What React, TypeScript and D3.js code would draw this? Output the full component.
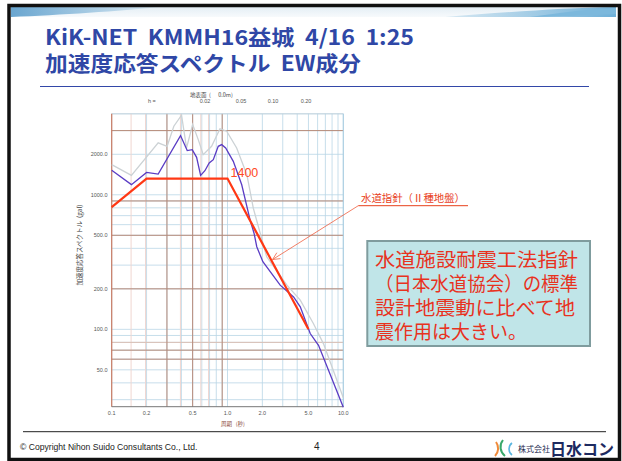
import React from 'react';
import * as d3 from 'd3';

// observed EW spectrum (KMMH16, h=0.05)
const ewPeriods = [0.1, 0.148, 0.2, 0.252, 0.393, 0.449, 0.496, 0.541, 0.586, 0.638, 0.695, 0.754, 0.832, 0.891, 0.964, 1.122, 1.327, 1.566, 1.695, 1.79, 2.02, 2.85, 3.72, 4.25, 5.18, 6.11, 10];
const ewAccel = [1520, 1190, 1467, 1427, 2756, 2130, 2167, 1898, 1393, 1510, 1724, 1825, 2293, 2360, 2231, 1772, 1188, 651, 518, 411, 318, 213, 174, 147, 93, 76, 26.3];

// faint grey spectrum
const refPeriods = [0.1, 0.148, 0.252, 0.301, 0.344, 0.401, 0.443, 0.5, 0.559, 0.617, 0.729, 0.861, 0.984, 1.2, 1.47, 1.67, 2.18, 3.26, 4.25, 5.53, 6.75, 10];
const refAccel = [1675, 1393, 2431, 2293, 3234, 3906, 2231, 3331, 2572, 1989, 2293, 3092, 2968, 2231, 1410, 796, 346, 213, 165, 110, 78, 31];

// water supply guideline, type II ground
const guidePeriods = [0.1, 0.2, 1.0, 5.0];
const guideAccel = [810, 1320, 1320, 100];

const xTicks = [0.1, 0.2, 0.5, 1.0, 2.0, 5.0, 10.0];
const yTicks = [50, 100, 200, 500, 1000, 2000];
const dampingLabels = ['0.02', '0.05', '0.10', '0.20'];
const dampingX = [205, 241, 273, 306];

const noteLines = ['水道施設耐震工法指針', '（日本水道協会）の標準', '設計地震動に比べて地', '震作用は大きい。'];
const noteWidths = [203, 203, 200, 152];

const W = 622;
const H = 461;
const jp = '"Noto Sans CJK JP", "Noto Sans", sans-serif';
const sans = '"Liberation Sans", Arial, sans-serif';

const x = d3.scaleLog().domain([0.1, 10]).range([111.7, 343.3]);
const y = d3.scaleLog().domain([26.6, 4000]).range([406.7, 113.8]);

const decadeSteps = d3.range(1, 10);
const xGrid = [0.1, 1].flatMap(d => decadeSteps.map(k => k * d)).concat([10]);
const yGrid = [10, 100, 1000].flatMap(d => decadeSteps.map(k => k * d)).filter(v => v >= 30 && v <= 4000);
const xBrown = [0.3, 0.5, 0.9];
const xPink = [0.15, 0.2, 0.4, 0.6, 0.7];
const yBrown = [3000, 900, 500, 200, 70, 60];
const yLightBrown = [80];

const line = d3.line<[number, number]>()
  .x(d => x(d[0]))
  .y(d => y(d[1]));

const zip = (a: number[], b: number[]) => a.map((v, i) => [v, b[i]] as [number, number]);

export default function App() {
  const [x0, x1] = x.range();
  const [yb, yt] = y.range();

  // point on the falling branch of the guideline for the leader arrow
  const fall = d3.scaleLinear()
    .domain([Math.log10(guidePeriods[2]), Math.log10(guidePeriods[3])])
    .range([Math.log10(guideAccel[2]), Math.log10(guideAccel[3])]);
  const tipT = 2.45;
  const tip = [x(tipT), y(Math.pow(10, fall(Math.log10(tipT)))) - 3];
  const from = [358.3, 205.7];
  const ang = Math.atan2(from[1] - tip[1], from[0] - tip[0]);
  const head = [-0.45, 0.45].map(a => [tip[0] + 8 * Math.cos(ang + a), tip[1] + 8 * Math.sin(ang + a)]);

  return (
    <svg width={W} height={H} style={{ position: 'absolute', left: 0, top: 0, background: '#fff' }}>
      <defs>
        <linearGradient id="swL" x1="0" x2="1" y1="0" y2="0">
          <stop offset="0" stopColor="#6aa6d0" />
          <stop offset="1" stopColor="#dcebf4" />
        </linearGradient>
        <linearGradient id="swR" x1="0" x2="1" y1="0" y2="0">
          <stop offset="0" stopColor="#d8e9f3" />
          <stop offset="1" stopColor="#6fb0d8" />
        </linearGradient>
        <linearGradient id="band" x1="0" x2="0" y1="0" y2="1">
          <stop offset="0" stopColor="#e4eef5" />
          <stop offset="1" stopColor="#f7fafc" />
        </linearGradient>
      </defs>

      {/* header decoration */}
      <rect x={11} y={7} width={605} height={10} fill="url(#band)" />
      <path d="M11,7 L160,7 C120,11 60,15 11,17 Z" fill="url(#swL)" />
      <path d="M445,17 C510,12 560,8 616,7 L616,17 Z" fill="url(#swR)" />
      <path d="M530,17 C565,12 590,9 616,8 L616,14 C600,15 570,16 530,17 Z" fill="#7cb8dc" />

      {/* title */}
      <text x={45} y={45} fontFamily={jp} fontWeight={700} fontSize={21} fill="#2f47a6"
        textLength={369} lengthAdjust="spacingAndGlyphs" style={{ whiteSpace: 'pre' }}>
        {'KiK-NET  KMMH16益城  4/16  1:25'}
      </text>
      <text x={45} y={71} fontFamily={jp} fontWeight={700} fontSize={21} fill="#2f47a6"
        textLength={316} lengthAdjust="spacingAndGlyphs" style={{ whiteSpace: 'pre' }}>
        {'加速度応答スペクトル  EW成分'}
      </text>
      <line x1={40} x2={589} y1={86.5} y2={86.5} stroke="#3348a8" strokeWidth={1.2} />

      {/* grid */}
      {yGrid.map(v => (
        <line key={'hy' + v} x1={x0} x2={x1} y1={y(v)} y2={y(v)} stroke="#b9d6e6" strokeWidth={0.8} />
      ))}
      {xGrid.map(v => (
        <line key={'vx' + v} x1={x(v)} x2={x(v)} y1={yt} y2={yb} stroke="#b9d6e6" strokeWidth={0.8} />
      ))}
      {xPink.map(v => (
        <line key={'px' + v} x1={x(v) - 1} x2={x(v) - 1} y1={yt} y2={yb} stroke="#f0d6d0" strokeWidth={1} />
      ))}
      {yLightBrown.map(v => (
        <line key={'lb' + v} x1={x0} x2={x1} y1={y(v)} y2={y(v)} stroke="#dcc0b4" strokeWidth={1} />
      ))}
      {yBrown.map(v => (
        <line key={'by' + v} x1={x0} x2={x1} y1={y(v)} y2={y(v)} stroke="#b88a78" strokeWidth={1} />
      ))}
      {xBrown.map(v => (
        <line key={'bx' + v} x1={x(v)} x2={x(v)} y1={yt} y2={yb} stroke="#b88a78" strokeWidth={1} />
      ))}
      <line x1={x0} x2={x1} y1={yt} y2={yt} stroke="#c4d2da" strokeWidth={0.8} />
      <line x1={x1} x2={x1} y1={yt} y2={yb} stroke="#a9cde2" strokeWidth={1} />
      <line x1={x0} x2={x0} y1={yt} y2={yb} stroke="#c97a62" strokeWidth={1.2} />
      <line x1={x0} x2={x1} y1={yb} y2={yb} stroke="#777" strokeWidth={1} />

      {/* top header of the chart */}
      <text x={190} y={97} fontFamily={jp} fontSize={5.5} fill="#444" style={{ whiteSpace: 'pre' }}>{'地表面  (      0.0m)'}</text>
      <text x={148} y={103} fontFamily={sans} fontSize={5.5} fill="#555">h =</text>
      {dampingLabels.map((d, i) => (
        <text key={d} x={dampingX[i]} y={103} fontFamily={sans} fontSize={5.5} fill="#555" textAnchor="middle">{d}</text>
      ))}

      {/* curves */}
      <path d={line(zip(refPeriods, refAccel)) || ''} fill="none" stroke="#ccd2d5" strokeWidth={1.3} />
      <path d={line(zip(ewPeriods, ewAccel)) || ''} fill="none" stroke="#5a3cc4" strokeWidth={1.3} />
      <path d={line(zip(guidePeriods, guideAccel)) || ''} fill="none" stroke="#ff3814" strokeWidth={2.2} />

      {/* axes labels */}
      {yTicks.map(v => (
        <text key={'yt' + v} x={107.5} y={y(v) + 2} fontFamily={sans} fontSize={5.5} fill="#555" textAnchor="end">
          {v.toFixed(1)}
        </text>
      ))}
      {xTicks.map(v => (
        <text key={'xt' + v} x={x(v)} y={415} fontFamily={sans} fontSize={5.5} fill="#555" textAnchor="middle">
          {v.toFixed(1)}
        </text>
      ))}
      <text transform="translate(82,245) rotate(-90)" fontFamily={jp} fontSize={6.5} fill="#444" textAnchor="middle"
        style={{ whiteSpace: 'pre' }}>
        {'加速度応答スペクトル  (gal)'}
      </text>
      <text x={233} y={426} fontFamily={jp} fontSize={5.5} fill="#8a4a3a" textAnchor="middle" style={{ whiteSpace: 'pre' }}>
        {'周期   (秒)'}
      </text>

      {/* annotations */}
      <text x={x(guidePeriods[2]) + 3} y={y(guideAccel[2]) - 1.5} fontFamily={sans} fontSize={12.5} fill="#ff4a26">1400</text>
      <text x={361} y={202} fontFamily={jp} fontSize={10.3} fill="#e8401c" textLength={104} lengthAdjust="spacingAndGlyphs">
        水道指針（Ⅱ種地盤）
      </text>
      <line x1={from[0]} x2={468} y1={from[1]} y2={from[1]} stroke="#e8401c" strokeWidth={1} />
      <line x1={from[0]} y1={from[1]} x2={tip[0]} y2={tip[1]} stroke="#f06040" strokeWidth={0.8} />
      {head.map((h, i) => (
        <line key={'ah' + i} x1={tip[0]} y1={tip[1]} x2={h[0]} y2={h[1]} stroke="#f06040" strokeWidth={0.8} />
      ))}

      <rect x={367.3} y={241} width={222.7} height={105} fill="#c0e5e8" stroke="#7f9c9e" strokeWidth={2} />
      <text fontFamily={jp} fontSize={19.5} fill="#e8321e">
        {noteLines.map((t, i) => (
          <tspan key={t} x={375} y={267 + i * 24} textLength={noteWidths[i]} lengthAdjust="spacingAndGlyphs">{t}</tspan>
        ))}
      </text>

      {/* footer */}
      <line x1={23} x2={606} y1={431.7} y2={431.7} stroke="#222" strokeWidth={1} />
      <text x={20} y={450} fontFamily={sans} fontSize={8.6} fill="#222">© Copyright  Nihon Suido Consultants Co., Ltd.</text>
      <text x={314} y={450} fontFamily={sans} fontSize={10} fill="#222">4</text>
      <path d="M496,442 C499,446 499,452 495,456" fill="none" stroke="#f08a3a" strokeWidth={2} />
      <path d="M503,440 C499,445 500,452 505,456" fill="none" stroke="#3aa86a" strokeWidth={2} />
      <path d="M512,443 C508,446 508,452 512,455" fill="none" stroke="#5ab6e0" strokeWidth={1.6} />
      <text x={518} y={452} fontFamily={jp} fontSize={8} fill="#1d2a50">株式会社</text>
      <text x={550} y={455} fontFamily={jp} fontWeight={700} fontSize={16} fill="#1d2a60">日水コン</text>

      {/* slide frame */}
      <rect x={9} y={5.5} width={610.5} height={454} fill="none" stroke="#111" strokeWidth={3.5} />
    </svg>
  );
}
